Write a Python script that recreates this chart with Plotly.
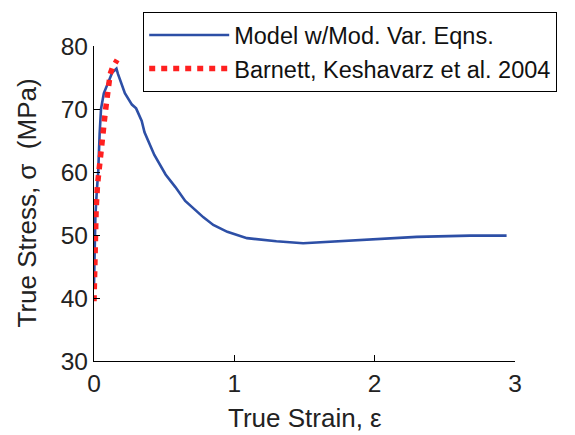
import plotly.graph_objects as go

# Model curve (true strain, true stress MPa)
model_strain = [0.0, 0.005, 0.01, 0.02, 0.03, 0.04, 0.05, 0.07, 0.10, 0.13, 0.16,
                0.17, 0.22, 0.27, 0.30, 0.34, 0.36, 0.43, 0.51, 0.58, 0.65, 0.72,
                0.78, 0.85, 0.95, 1.09, 1.30, 1.49, 1.75, 1.99, 2.30, 2.68, 2.94]
model_stress = [42.0, 48.0, 53.0, 57.0, 60.0, 66.0, 70.0, 72.5, 74.3, 75.8, 76.4,
                75.6, 72.5, 70.7, 70.1, 68.1, 66.3, 62.7, 59.6, 57.6, 55.4, 54.0,
                52.8, 51.6, 50.5, 49.5, 49.0, 48.7, 49.0, 49.35, 49.7, 49.9, 49.9]

# Experimental data (Barnett, Keshavarz et al. 2004)
exp_strain = [0.0, 0.003, 0.008, 0.015, 0.025, 0.035, 0.045, 0.055, 0.068, 0.078,
              0.09, 0.10, 0.115, 0.13, 0.15, 0.165]
exp_stress = [39.5, 45.0, 50.0, 54.0, 58.0, 60.5, 62.5, 64.5, 67.0, 69.0,
              71.2, 73.2, 75.5, 76.5, 77.4, 77.8]

x_ticks = [0, 1, 2, 3]
y_ticks = [30, 40, 50, 60, 70, 80]
x_title = "True Strain, ε"
y_title = "True Stress, σ  (MPa)"

FONT = "Liberation Sans, Arial, sans-serif"

fig = go.Figure()
fig.add_trace(go.Scatter(
    x=model_strain, y=model_stress, mode="lines",
    name="Model w/Mod. Var. Eqns.",
    line=dict(color="#2d4fa6", width=2.6),
))
fig.add_trace(go.Scatter(
    x=exp_strain, y=exp_stress, mode="lines",
    name="Barnett, Keshavarz et al. 2004",
    line=dict(color="#ff2020", width=5.5, dash="6px,6px"),
))

axis_common = dict(
    showline=True, linecolor="black", linewidth=1.2,
    ticks="inside", ticklen=6, tickwidth=1.2, tickcolor="black",
    showgrid=False, zeroline=False, mirror=False,
    tickfont=dict(family=FONT, size=24.5, color="#222"),
)

fig.update_layout(
    width=575, height=435,
    margin=dict(l=94, r=60, t=38, b=74),
    plot_bgcolor="white", paper_bgcolor="white",
    showlegend=True,
    legend=dict(
        x=0.1164, y=1.108, xanchor="left", yanchor="top",
        bgcolor="white", bordercolor="black", borderwidth=1.2,
        font=dict(family=FONT, size=23.5, color="#111"),
        itemwidth=80, tracegroupgap=0,
    ),
    xaxis=dict(range=[0, 3], tickvals=x_ticks, ticktext=[str(v) for v in x_ticks],
               **axis_common),
    yaxis=dict(range=[30, 80], tickvals=y_ticks, ticktext=[str(v) for v in y_ticks],
               **axis_common),
    annotations=[
        dict(text=x_title, xref="paper", yref="paper", x=0.5, y=(361 - 419) / 323,
             xanchor="center", yanchor="middle", showarrow=False,
             font=dict(family=FONT, size=26, color="#222")),
        dict(text=y_title, xref="paper", yref="paper", x=(26 - 94) / 421, y=0.5,
             xanchor="center", yanchor="middle", textangle=-90, showarrow=False,
             font=dict(family=FONT, size=26, color="#222")),
    ],
    hovermode=False,
)

fig.write_html("out.html")
